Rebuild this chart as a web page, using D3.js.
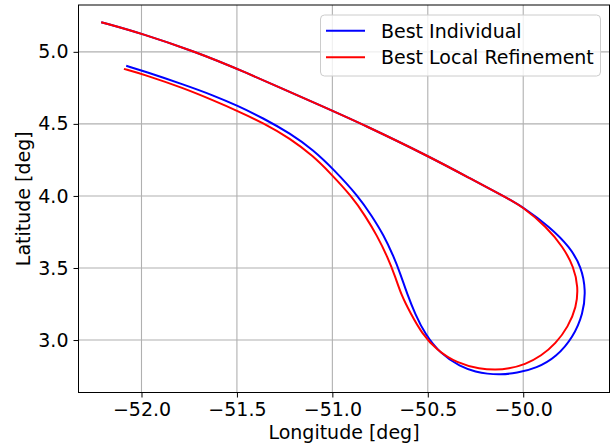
<!DOCTYPE html>
<html>
<head>
<meta charset="utf-8">
<script src="https://cdn.jsdelivr.net/npm/d3@7"></script>
<style>
html,body{margin:0;padding:0;background:#fff;}
svg{display:block;font-family:"DejaVu Sans",sans-serif;}
</style>
</head>
<body>
<svg id="chart" width="613" height="447"></svg>
<script>
// Series: [longitude, latitude]
const bestIndividual = [
  [-52.206,5.204],[-52.0,5.128],[-51.718,5.0],[-51.5,4.885],[-51.0,4.591],[-50.846,4.5],
  [-50.5,4.279],[-50.262,4.11],[-50.105,4.0],[-50.0,3.923],[-49.861,3.784],[-49.756,3.646],
  [-49.695,3.507],[-49.672,3.345],[-49.686,3.183],[-49.738,3.021],[-49.826,2.883],[-49.930,2.805],
  [-50.035,2.770],[-50.121,2.760],[-50.191,2.766],[-50.244,2.778],[-50.331,2.815],[-50.436,2.908],
  [-50.514,3.040],[-50.566,3.180],[-50.609,3.323],[-50.644,3.461],[-50.679,3.580],[-50.732,3.730],
  [-50.793,3.860],[-50.862,3.995],[-50.994,4.185],[-51.099,4.318],[-51.221,4.434],[-51.360,4.538],
  [-51.5,4.628],[-51.622,4.697],[-51.779,4.773],[-51.988,4.866],[-52.075,4.901]
];
const bestLocalRefinement = [
  [-52.206,5.204],[-52.0,5.128],[-51.718,5.0],[-51.5,4.885],[-51.0,4.591],[-50.846,4.5],
  [-50.5,4.279],[-50.262,4.11],[-50.105,4.0],[-50.0,3.923],[-49.878,3.784],[-49.791,3.646],
  [-49.735,3.507],[-49.712,3.368],[-49.721,3.230],[-49.765,3.091],[-49.830,2.975],[-49.905,2.890],
  [-49.990,2.830],[-50.080,2.800],[-50.140,2.793],[-50.226,2.798],[-50.348,2.840],[-50.453,2.930],
  [-50.531,3.045],[-50.592,3.190],[-50.638,3.310],[-50.670,3.438],[-50.711,3.577],[-50.766,3.725],
  [-50.827,3.860],[-50.897,3.995],[-51.012,4.160],[-51.099,4.275],[-51.221,4.399],[-51.360,4.505],
  [-51.5,4.592],[-51.622,4.662],[-51.779,4.748],[-51.988,4.843],[-52.087,4.880]
];
const seriesNames = ["Best Individual", "Best Local Refinement"];
const seriesColors = ["#0000ff", "#ff0000"];
const xTicks = [-52.0, -51.5, -51.0, -50.5, -50.0];
const yTicks = [3.0, 3.5, 4.0, 4.5, 5.0];
const xLabel = "Longitude [deg]";
const yLabel = "Latitude [deg]";

const svg = d3.select("#chart");
const m = {left: 78.5, right: 609.5, top: 5, bottom: 392.5};
const x = d3.scaleLinear().domain([-52.330, -49.548]).range([m.left, m.right]);
const y = d3.scaleLinear().domain([2.636, 5.325]).range([m.bottom, m.top]);
const fmt = d => d3.format(".1f")(d).replace("-", "\u2212");
const FS = 19;

// grid
const g = svg.append("g");
g.selectAll(".gx").data(xTicks).join("line")
  .attr("x1", d => x(d)).attr("x2", d => x(d)).attr("y1", m.top).attr("y2", m.bottom)
  .attr("stroke", "#b0b0b0").attr("stroke-width", 1.1);
g.selectAll(".gy").data(yTicks).join("line")
  .attr("y1", d => y(d)).attr("y2", d => y(d)).attr("x1", m.left).attr("x2", m.right)
  .attr("stroke", "#b0b0b0").attr("stroke-width", 1.1);

// lines
const line = d3.line().x(d => x(d[0])).y(d => y(d[1])).curve(d3.curveBasis);
[bestIndividual, bestLocalRefinement].forEach((s, i) => {
  svg.append("path").datum(s).attr("d", line)
    .attr("fill", "none").attr("stroke", seriesColors[i]).attr("stroke-width", 2)
    .attr("stroke-linejoin", "round").attr("stroke-linecap", "square");
});

// axes
const xAxis = d3.axisBottom(x).tickValues(xTicks).tickFormat(fmt).tickSize(5).tickPadding(5);
const yAxis = d3.axisLeft(y).tickValues(yTicks).tickFormat(fmt).tickSize(5).tickPadding(5);
const gx = svg.append("g").attr("transform", `translate(0,${m.bottom})`).call(xAxis);
const gy = svg.append("g").attr("transform", `translate(${m.left},0)`).call(yAxis);
[gx, gy].forEach(a => {
  a.select(".domain").remove();
  a.selectAll("text").attr("font-family", "DejaVu Sans").attr("font-size", FS).attr("fill", "#000");
  a.selectAll("line").attr("stroke", "#000").attr("stroke-width", 1);
});

// frame
svg.append("rect").attr("x", m.left).attr("y", m.top)
  .attr("width", m.right - m.left).attr("height", m.bottom - m.top)
  .attr("fill", "none").attr("stroke", "#000").attr("stroke-width", 1);

// labels
svg.append("text").attr("x", (m.left + m.right) / 2).attr("y", 439)
  .attr("text-anchor", "middle").attr("font-size", FS).text(xLabel);
svg.append("text").attr("transform", `translate(30,${(m.top + m.bottom) / 2}) rotate(-90)`)
  .attr("text-anchor", "middle").attr("font-size", FS).text(yLabel);

// legend
const lg = svg.append("g");
lg.append("rect").attr("x", 320.5).attr("y", 15).attr("width", 280).attr("height", 61)
  .attr("rx", 4).attr("fill", "#fff").attr("fill-opacity", 0.8).attr("stroke", "#cccccc");
seriesNames.forEach((n, i) => {
  const yy = 30.7 + i * 26.6;
  lg.append("line").attr("x1", 326).attr("x2", 365).attr("y1", yy).attr("y2", yy)
    .attr("stroke", seriesColors[i]).attr("stroke-width", 2);
  lg.append("text").attr("x", 381).attr("y", yy).attr("dy", "0.36em")
    .attr("font-size", FS).text(n);
});
</script>
</body>
</html>
